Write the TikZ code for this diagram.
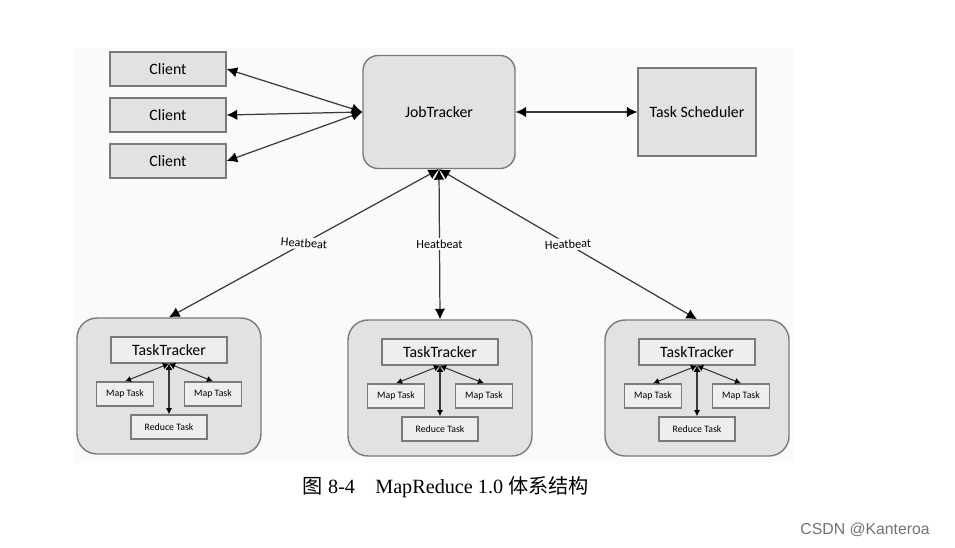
\documentclass[tikz,border=0pt]{standalone}
\usepackage{fontspec}
\setmainfont{Carlito}
\newfontfamily\capfont{Liberation Serif}
\newfontfamily\cjk{Noto Sans CJK SC}
\newfontfamily\markfont{Liberation Sans}
\usetikzlibrary{arrows.meta}
\definecolor{panelbg}{HTML}{FAFAFA}
\definecolor{boxfill}{HTML}{E2E2E2}
\definecolor{boxline}{HTML}{7A7A7A}
\definecolor{arrowline}{HTML}{3A3A3A}
\begin{document}
\begin{tikzpicture}[x=0.02cm,y=-0.02cm,
  box/.style={draw=boxline,fill=boxfill,line width=0.8pt,inner sep=0pt,font=\fontsize{9}{10}\selectfont},
  small/.style={box,fill=boxfill!60!white,minimum width=1.14cm,minimum height=0.48cm,font=\fontsize{5.6}{6}\selectfont},
  group/.style={draw=boxline,fill=boxfill,line width=0.8pt,rounded corners=0.4cm,minimum width=3.68cm,minimum height=2.72cm},
  link/.style={draw=arrowline,line width=0.7pt,{Latex[length=6pt,width=6pt,color=black]}-{Latex[length=6pt,width=6pt,color=black]}},
  inner/.style={draw=arrowline,line width=0.6pt,{Latex[length=3.5pt,width=4pt,color=black]}-{Latex[length=3.5pt,width=3.5pt,color=black]}},
  beat/.style={fill=panelbg,inner sep=1pt,font=\fontsize{7}{8}\selectfont}]
\useasboundingbox (0,0) rectangle (955,547);
\fill[panelbg] (73,48) rectangle (795,463);
% top row
\node[box,minimum width=2.32cm,minimum height=0.68cm] (c1) at (168,69) {Client};
\node[box,minimum width=2.32cm,minimum height=0.68cm] (c2) at (168,115) {Client};
\node[box,minimum width=2.32cm,minimum height=0.68cm] (c3) at (168,161) {Client};
\node[box,rounded corners=0.3cm,minimum width=3.04cm,minimum height=2.26cm] (jt) at (439,112) {JobTracker};
\node[box,minimum width=2.36cm,minimum height=1.76cm] (ts) at (697,112) {Task Scheduler};
\draw[link] (jt.west) -- (c1.east);
\draw[link] (jt.west) -- (c2.east);
\draw[link] (jt.west) -- (c3.east);
\draw[link] (jt.east) -- (ts.west);
% task trackers
\foreach \g/\x/\y in {g1/169/386,g2/440/388,g3/697/388}{
  \node[group] (\g) at (\x,\y) {};
  \node[box,fill=boxfill!60!white,minimum width=2.32cm,minimum height=0.52cm] (\g tt) at (\x,\y-36) {TaskTracker};
  \node[small] (\g ml) at (\x-44,\y+8) {Map Task};
  \node[small] (\g mr) at (\x+44,\y+8) {Map Task};
  \node[small,minimum width=1.52cm] (\g rd) at (\x,\y+41) {Reduce Task};
  \draw[inner] (\g tt.south) -- (\g ml.north);
  \draw[inner] (\g tt.south) -- (\g mr.north);
  \draw[inner] (\g tt.south) -- (\g rd.north);
}
\draw[link] (jt.south) -- node[beat,rotate=-4] {Heatbeat} (g1.north);
\draw[link] (jt.south) -- node[beat] {Heatbeat} (g2.north);
\draw[link] (jt.south) -- node[beat,rotate=3] {Heatbeat} (g3.north);
% caption
\node[font=\capfont\fontsize{11.5}{14}\selectfont] (cap) at (446,487) {{\cjk 图} 8-4\quad MapReduce 1.0 {\cjk 体系结构}};
\node[font=\markfont\fontsize{9}{10}\selectfont,text=black!55,anchor=east] (mark) at (936,530) {CSDN @Kanteroa};
\end{tikzpicture}
\end{document}
